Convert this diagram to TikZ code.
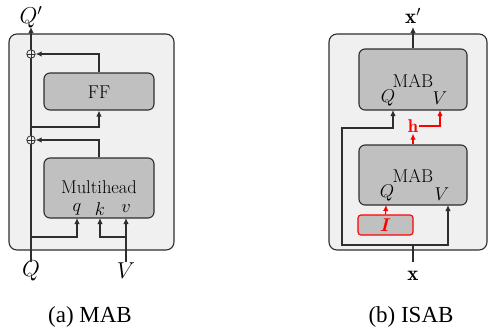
\RequirePackage{fix-cm}
\documentclass[tikz,border=0pt]{standalone}
\usepackage{amsmath}
\usepackage{fontspec}
\newfontfamily\capfont{Liberation Serif}
\usetikzlibrary{arrows.meta}

\definecolor{linegray}{HTML}{2E2E2E}
\definecolor{panelfill}{HTML}{F0F0F0}
\definecolor{blockfill}{HTML}{C0C0C0}

\tikzset{
  wire/.style={draw=linegray, line width=1.1pt},
  arr/.style={wire, -{Latex[length=6pt,width=5.5pt]}},
  redarr/.style={draw=red, line width=1.1pt, -{Latex[length=6pt,width=5.5pt]}},
  panel/.style={draw=linegray, fill=panelfill, rounded corners=8pt, line width=1.1pt, inner sep=0pt},
  block/.style={draw=linegray, fill=blockfill, rounded corners=6pt, line width=1.1pt, inner sep=0pt},
  lbl/.style={inner sep=1pt, font=\fontsize{18.5}{21}\selectfont},
  biglbl/.style={inner sep=1pt, font=\fontsize{23}{27}\selectfont},
  boldlbl/.style={inner sep=1pt, font=\fontsize{21}{25}\selectfont},
  caption/.style={inner sep=0pt, font=\capfont\fontsize{23}{26}\selectfont},
  oplus/.style={circle, draw=linegray, fill=panelfill, line width=0.8pt, minimum size=8.5pt, inner sep=0pt,
    path picture={\draw[linegray, line width=0.8pt]
      (path picture bounding box.west) -- (path picture bounding box.east)
      (path picture bounding box.north) -- (path picture bounding box.south);}},
}

\begin{document}
\begin{tikzpicture}[x=1pt, y=-1pt]
\useasboundingbox (0,0) rectangle (492,335);

% ---------------- (a) MAB ----------------
\node[panel, minimum width=165pt, minimum height=216pt] (panelA) at (91.5,142) {};
\node[block, minimum width=110pt, minimum height=37pt] (ff) at (99,91.5) {};
\node[lbl] (fftxt) at (99,92) {FF};
\node[block, minimum width=110pt, minimum height=60pt] (mh) at (99,188) {};
\node[lbl] (mhtxt) at (99,187) {Multihead};
\node[lbl] (qlab) at (77,209) {$q$};
\node[lbl] (klab) at (100,209) {$k$};
\node[lbl] (vlab) at (126,209) {$v$};

\node[biglbl] (Qp) at (31,17) {$Q'$};
\node[biglbl] (Qin) at (31,271) {$Q$};
\node[biglbl] (Vin) at (126,271) {$V$};

\coordinate (qtop) at (31,27);
\coordinate (qbot) at (31,262);
\coordinate (vbot) at (126,262);
\coordinate (qi) at (77,218);
\coordinate (ki) at (100,218);
\coordinate (vi) at (126,218);
\coordinate (ffsplit) at (31,127);
\coordinate (qsplit) at (31,237);
\coordinate (vsplit) at (126,237);

% residual trunk
\draw[arr] (qbot) -- (qtop);
\node[oplus] (add1) at (31,54) {};
\node[oplus] (add2) at (31,140) {};

\draw[arr] (ff.north) |- (add1.east);
\draw[arr] (ffsplit) -| (ff.south);
\draw[arr] (mh.north) |- (add2.east);
\draw[arr] (qsplit) -| (qi);
\draw[arr] (vbot) -- (vi);
\draw[arr] (vsplit) -| (ki);

\node[caption] (capA) at (90,317) {(a) MAB};

% ---------------- (b) ISAB ----------------
\node[panel, minimum width=158pt, minimum height=216pt] (panelB) at (408,142) {};
\node[block, minimum width=108pt, minimum height=61pt] (mab1) at (413,79.5) {};
\node[lbl] (mab1txt) at (413,81) {MAB};
\node[lbl] (mab1q) at (388,98) {$Q$};
\node[lbl] (mab1v) at (440,98) {$V$};
\node[block, minimum width=108pt, minimum height=60pt] (mab2) at (413,175) {};
\node[lbl] (mab2txt) at (413,176) {MAB};
\node[lbl] (mab2q) at (387,193) {$Q$};
\node[lbl] (mab2v) at (442,194) {$V$};
\node[block, draw=red, rounded corners=3pt, minimum width=55pt, minimum height=20pt] (ind) at (385.5,225) {};
\node[lbl, text=red] (indtxt) at (385.5,225) {$\boldsymbol{I}$};
\node[lbl, text=red] (h) at (413,126) {$\mathbf{h}$};

\node[boldlbl] (xout) at (413,16) {$\mathbf{x'}$};
\node[boldlbl] (xin) at (413,276) {$\mathbf{x}$};

\coordinate (xtop) at (413,27);
\coordinate (xbot) at (413,262);
\coordinate (xsplit) at (413,245);
\coordinate (lcorner) at (342,245);
\coordinate (lturn) at (342,128);
\coordinate (q1i) at (393,110);
\coordinate (v1i) at (440,110);
\coordinate (q2i) at (386,205);
\coordinate (v2i) at (448,205);

\draw[arr] (mab1.north) -- (xtop);
\draw[wire] (xbot) -- (xsplit);
\draw[arr] (xsplit) -| (v2i);
\draw[arr] (xsplit) -- (lcorner) -- (lturn) -| (q1i);
\draw[redarr] (ind.north) -- (q2i);
\draw[redarr] (mab2.north) -- (h.south);
\draw[redarr] (h.east) -| (v1i);

\node[caption] (capB) at (411,317) {(b) ISAB};
\end{tikzpicture}
\end{document}
